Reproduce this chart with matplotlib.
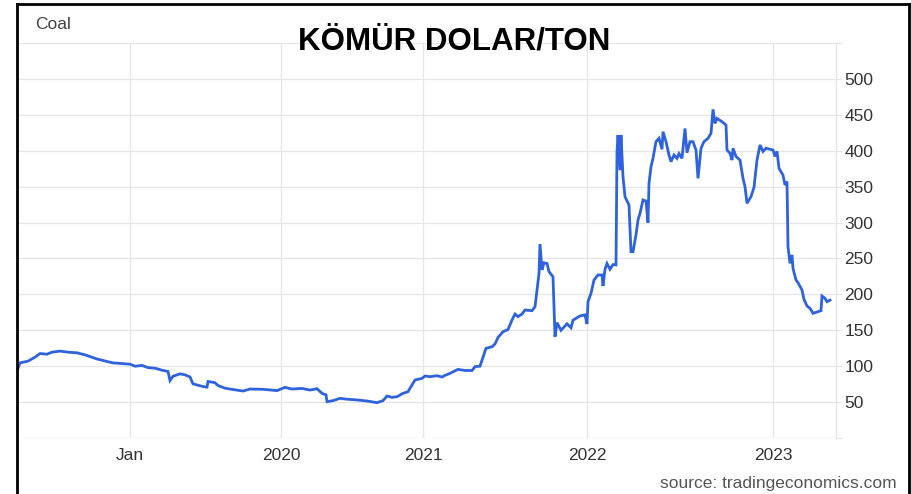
import matplotlib
matplotlib.use("Agg")
import matplotlib.pyplot as plt
from matplotlib.lines import Line2D

plt.rcParams["font.family"] = ["Liberation Sans", "DejaVu Sans"]

# position along the chart's time axis (trading-session index, as plotted by the source)
session = [
    0, 2, 10, 17, 22, 29, 34, 42, 50, 59, 67, 75, 79, 85, 89, 95, 104, 112,
    117, 124, 130, 137, 144, 150, 152, 155, 162, 167, 172, 175, 184, 189, 190,
    197, 200, 207, 215, 225, 232, 245, 259, 267, 274, 284, 292, 299, 304, 308,
    309, 315, 322, 329, 339, 349, 359, 365, 369, 374, 379, 385, 390, 394, 397,
    404, 407, 412, 419, 424, 427, 432, 440, 447, 454, 457, 462, 465, 468, 474,
    477, 480, 485, 490, 494, 497, 500, 504, 507, 514, 517, 519, 521, 522, 524,
    526, 529, 531, 535, 537, 539, 543, 549, 553, 555, 562, 567, 569, 570, 573,
    576, 580, 584, 585, 587, 589, 592, 595, 598, 599, 600, 602, 603, 605, 607,
    611, 613, 615, 618, 620, 622, 625, 628, 630, 631, 633, 635, 638, 641, 644,
    645, 648, 651, 653, 656, 659, 661, 664, 667, 669, 672, 675, 678, 680, 683,
    686, 690, 693, 695, 697, 699, 704, 708, 709, 712, 714, 715, 718, 722, 725,
    727, 729, 733, 736, 739, 742, 745, 748, 752, 755, 757, 759, 761, 765, 767,
    769, 770, 772, 774, 775, 778, 780, 784, 786, 789, 792, 795, 800, 803, 804,
    807, 809, 812,
]
usd_per_ton = [
    97, 104.6, 107, 112.5, 117.6, 116.7, 119.5, 121, 119.5, 118.6, 115.8, 112,
    110, 108, 106.5, 104.6, 103.7, 102.8, 100, 101, 98, 97.2, 94.4, 92.6, 80,
    86, 89.3, 88, 85, 75.4, 72, 70.8, 78.7, 77, 73, 69.4, 67.5, 65.4, 68.2,
    67.8, 66, 70.5, 68.2, 69, 66.8, 68.6, 62.2, 60, 50.6, 52, 55.2, 54, 53,
    51.5, 49.2, 52, 58.5, 56.6, 57.5, 62.2, 64.5, 73.8, 80.8, 83, 86.3, 85.4,
    86.7, 84.9, 87.2, 90, 95.6, 94, 94, 99.3, 100, 112.3, 124.9, 127, 130.9,
    140, 148, 151, 164.3, 172.6, 169, 172.6, 178.2, 177.3, 182.8, 206, 229,
    270, 234, 244, 243, 231.6, 224.6, 141, 160.6, 150, 159, 153.5, 164, 170,
    171.4, 158.7, 189.8, 201.4, 220, 227, 227, 211.6, 234.9, 243, 235, 241.5,
    241, 398.7, 421.9, 373, 422, 363.8, 336, 324.4, 259.4, 259.4, 283, 303.5,
    312.8, 331.4, 330, 299.8, 354.6, 377.8, 389.4, 412.6, 417.3, 402, 426.5,
    412.6, 394, 384.7, 394, 389.4, 396, 389.4, 431, 397.2, 412.6, 412.6, 401,
    361.6, 403.4, 412.6, 417.3, 424.2, 457.6, 438, 445, 440.4, 435.8, 401,
    396.4, 387, 403.4, 392, 387, 361.6, 350, 326.8, 336, 349, 387, 408, 399,
    403.4, 402, 401, 392, 399, 375.5, 366, 352.3, 357, 266.4, 243.2, 254.8,
    236.2, 220, 216.4, 206, 193, 183.8, 180.6, 173.6, 176, 177.3, 197.7, 194.5,
    189.8, 192,
]

x_tick_pos = [112, 263, 405, 569, 755]
x_tick_labels = ["Jan", "2020", "2021", "2022", "2023"]
y_ticks = list(range(0, 551, 50))
y_tick_labels = [str(v) if 0 < v < 550 else "" for v in y_ticks]

W, H = 911, 494
fig = plt.figure(figsize=(W / 100, H / 100), dpi=100)
fig.patch.set_facecolor("white")
ax = fig.add_axes([18 / W, (H - 438) / H, 818 / W, 395 / H])

ax.plot(session, usd_per_ton, color="#2f62dd", lw=2.0, solid_joinstyle="miter")

ax.set_xlim(0, 818)
ax.set_ylim(0, 550)
ax.set_xticks(x_tick_pos)
ax.set_xticklabels(x_tick_labels)
ax.set_yticks(y_ticks)
ax.set_yticklabels(y_tick_labels)
ax.yaxis.tick_right()
ax.tick_params(axis="x", length=0, pad=7, labelsize=12.5, labelcolor="#333333")
ax.tick_params(axis="y", length=4, color="#e4e4e4", pad=2, labelsize=12.5,
               labelcolor="#333333")
for lbl in ax.get_yticklabels():
    lbl.set_horizontalalignment("left")

ax.grid(True, color="#e6e6e6", lw=0.9)
ax.set_axisbelow(True)
for side in ["top", "left", "bottom"]:
    ax.spines[side].set_visible(False)
ax.spines["right"].set_color("#e4e4e4")
ax.spines["right"].set_linewidth(0.9)

fig.text(0.499, (H - 50) / H, "KÖMÜR DOLAR/TON", ha="center", va="baseline",
         fontsize=22.5, fontweight="bold", color="black")
fig.text(35 / W, (H - 29) / H, "Coal", ha="left", va="baseline",
         fontsize=12.5, color="#444444")
fig.text(897 / W, (H - 488) / H, "source: tradingeconomics.com", ha="right",
         va="baseline", fontsize=12.5, color="#555555")

# black frame around the screenshot (left, top, right)
frame = dict(color="black", lw=2, transform=fig.transFigure)
fig.add_artist(Line2D([16.5 / W, 16.5 / W], [0, (H - 4) / H], **frame))
fig.add_artist(Line2D([16.5 / W, 909 / W], [(H - 4) / H, (H - 4) / H], **frame))
fig.add_artist(Line2D([909 / W, 909 / W], [0, (H - 4) / H], **frame))

fig.savefig("out.png", dpi=100)
